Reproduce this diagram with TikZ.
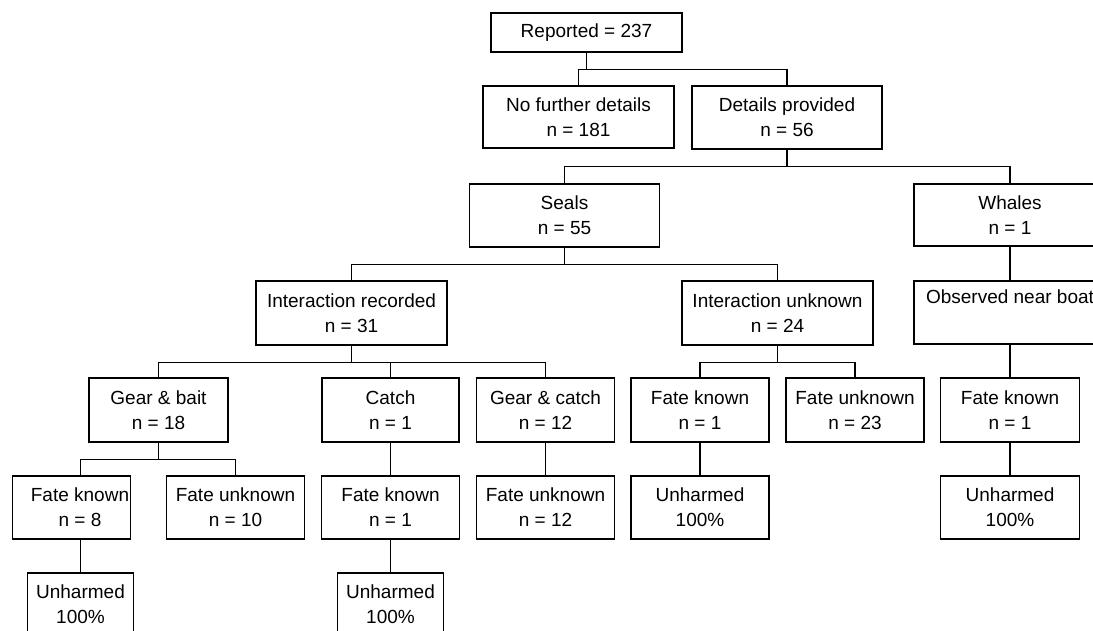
\documentclass[tikz,border=0pt]{standalone}
\usepackage{fontspec}
\setmainfont{Liberation Sans}
\begin{document}
\begin{tikzpicture}[x=1pt,y=-1pt,
  box/.style={draw, line width=1.4pt, inner sep=0pt, align=center, font=\fontsize{19}{25}\selectfont},
  txt/.style={inner sep=0pt, align=center, font=\fontsize{19}{25}\selectfont},
  link/.style={line width=1.4pt}]
\fill[white] (0,0) rectangle (1093,631);
\useasboundingbox (0,0) rectangle (1093,631);
\newcommand{\bx}[6]{\node[box, minimum width=#4pt, minimum height=#5pt] (#1) at (#2,#3) {#6};}
\bx{rep}{586.5}{32.5}{191}{39}{Reported = 237}
\bx{nfd}{578.5}{117}{191}{62}{No further details\\n = 181}
\bx{dp}{787}{117.5}{190}{63}{Details provided\\n = 56}
\bx{seals}{564.5}{215.5}{190}{63}{Seals\\n = 55}
\bx{whales}{1010}{215}{192}{62}{Whales\\n = 1}
\bx{ir}{351.5}{313}{191}{64}{Interaction recorded\\n = 31}
\bx{iu}{777.5}{313}{191}{64}{Interaction unknown\\n = 24}
\bx{onb}{1010}{312.5}{192}{63}{Observed near boat\\\strut}
\bx{gb}{158.5}{410}{139}{64}{Gear \& bait\\n = 18}
\bx{catch}{390.5}{410}{137}{64}{Catch\\n = 1}
\bx{gc}{545.5}{410}{138}{64}{Gear \& catch\\n = 12}
\bx{fkiu}{700}{410}{138}{64}{Fate known\\n = 1}
\bx{fuiu}{855}{410}{138}{64}{Fate unknown\\n = 23}
\bx{fkwh}{1010}{410}{139}{64}{Fate known\\n = 1}
\bx{fkgb}{71.5}{507.5}{118}{63}{}
\node[txt] (fkgbt) at (80,507.5) {Fate known\\n = 8};
\bx{fugb}{235.5}{507.5}{138}{63}{Fate unknown\\n = 10}
\bx{fkc}{390.5}{507.5}{138}{63}{Fate known\\n = 1}
\bx{fugc}{545.5}{507.5}{138}{63}{Fate unknown\\n = 12}
\bx{uniu}{700}{507.5}{138}{63}{Unharmed\\100\%}
\bx{unwh}{1010}{507.5}{139}{63}{Unharmed\\100\%}
\bx{ungb}{80.5}{604.5}{106}{63}{Unharmed\\100\%}
\bx{unc}{390.5}{604.5}{106}{63}{Unharmed\\100\%}
% connectors
\draw[link] (rep.south) -- ++(0,17) -| (nfd.north);
\draw[link] (rep.south) -- ++(0,17) -| (dp.north);
\draw[link] (dp.south) -- ++(0,17) -| (seals.north);
\draw[link] (dp.south) -- ++(0,17) -| (whales.north);
\draw[link] (seals.south) -- ++(0,17) -| (ir.north);
\draw[link] (seals.south) -- ++(0,17) -| (iu.north);
\draw[link] (whales.south) -- (onb.north);
\draw[link] (onb.south) -- (fkwh.north);
\draw[link] (ir.south) -- ++(0,17) -| (gb.north);
\draw[link] (ir.south) -- ++(0,17) -| (catch.north);
\draw[link] (ir.south) -- ++(0,17) -| (gc.north);
\draw[link] (iu.south) -- ++(0,17) -| (fkiu.north);
\draw[link] (iu.south) -- ++(0,17) -| (fuiu.north);
\draw[link] (gb.south) -- ++(0,17) -| (ungb.north |- fkgb.north);
\draw[link] (gb.south) -- ++(0,17) -| (fugb.north);
\draw[link] (catch.south) -- (fkc.north);
\draw[link] (gc.south) -- (fugc.north);
\draw[link] (fkiu.south) -- (uniu.north);
\draw[link] (fkwh.south) -- (unwh.north);
\draw[link] (ungb.north |- fkgb.south) -- (ungb.north);
\draw[link] (fkc.south) -- (unc.north);
\end{tikzpicture}
\end{document}
